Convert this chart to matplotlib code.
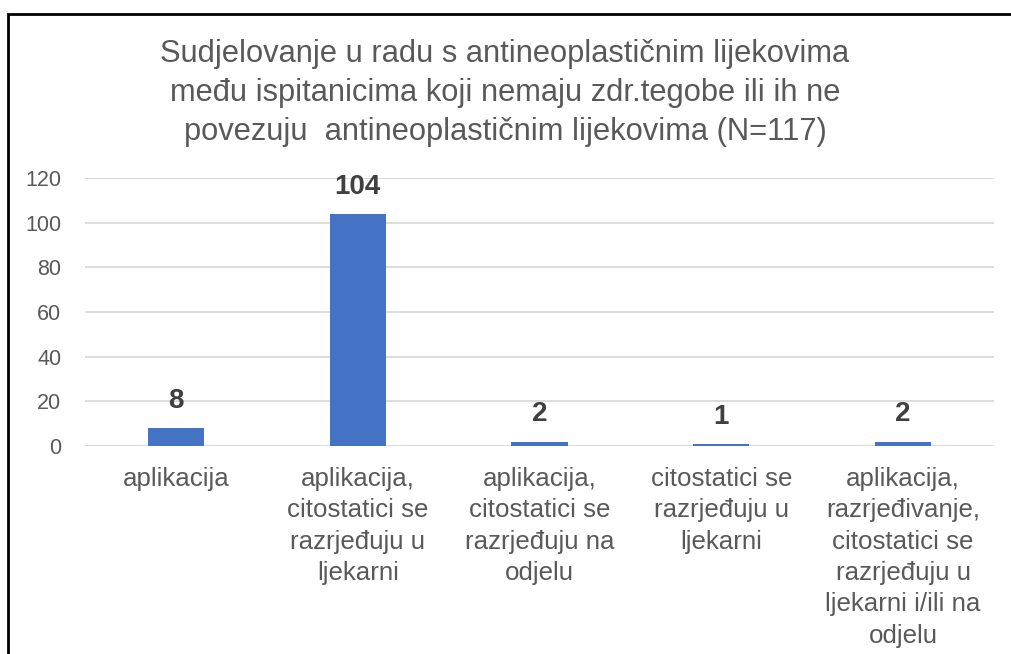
import matplotlib
matplotlib.use("Agg")
import matplotlib.pyplot as plt
from matplotlib.patches import Rectangle

categories = [
    "aplikacija",
    "aplikacija,\ncitostatici se\nrazrjeđuju u\nljekarni",
    "aplikacija,\ncitostatici se\nrazrjeđuju na\nodjelu",
    "citostatici se\nrazrjeđuju u\nljekarni",
    "aplikacija,\nrazrjeđivanje,\ncitostatici se\nrazrjeđuju u\nljekarni i/ili na\nodjelu",
]
values = [8, 104, 2, 1, 2]
yticks = [0, 20, 40, 60, 80, 100, 120]
title = ("Sudjelovanje u radu s antineoplastičnim lijekovima\n"
         "među ispitanicima koji nemaju zdr.tegobe ili ih ne\n"
         "povezuju  antineoplastičnim lijekovima (N=117)")

plt.rcParams['font.family'] = ['Liberation Sans', 'DejaVu Sans']

W, H = 1011, 654
fig = plt.figure(figsize=(W / 100, H / 100), dpi=100)
ax = fig.add_axes([85 / W, 1 - 446 / H, (994 - 85) / W, (446 - 178) / H])

x = list(range(len(categories)))
ax.bar(x, values, width=0.31, color="#4472C4", zorder=3)
ax.set_xlim(-0.5, len(categories) - 0.5)
ax.set_ylim(0, 120)
ax.set_yticks(yticks)
ax.set_yticklabels([str(t) for t in yticks])
ax.set_xticks(x)
ax.set_xticklabels(categories, linespacing=1.39, va="top")
ax.grid(axis="y", color="#D9D9D9", linewidth=1.3, zorder=0)
ax.set_axisbelow(True)
for s in ax.spines.values():
    s.set_visible(False)
ax.tick_params(axis="y", length=0, pad=17, labelsize=15.5, labelcolor="#595959")
ax.tick_params(axis="x", length=0, pad=15, labelsize=18.6, labelcolor="#595959")

for xi, v in zip(x, values):
    ax.annotate(str(v), (xi, v), xytext=(0, 19.5), textcoords="offset points",
                ha="center", va="center", fontsize=20, fontweight="bold",
                color="#404040")

fig.text(505 / W, 1 - 93 / H, title, ha="center", va="center",
         fontsize=22.2, color="#595959", linespacing=1.39)

border = Rectangle((8 / W, -0.1), 1.2, (H - 14) / H + 0.1, transform=fig.transFigure,
                   fill=False, edgecolor="black", linewidth=2, clip_on=False)
fig.add_artist(border)

fig.savefig("out.png", dpi=100)
